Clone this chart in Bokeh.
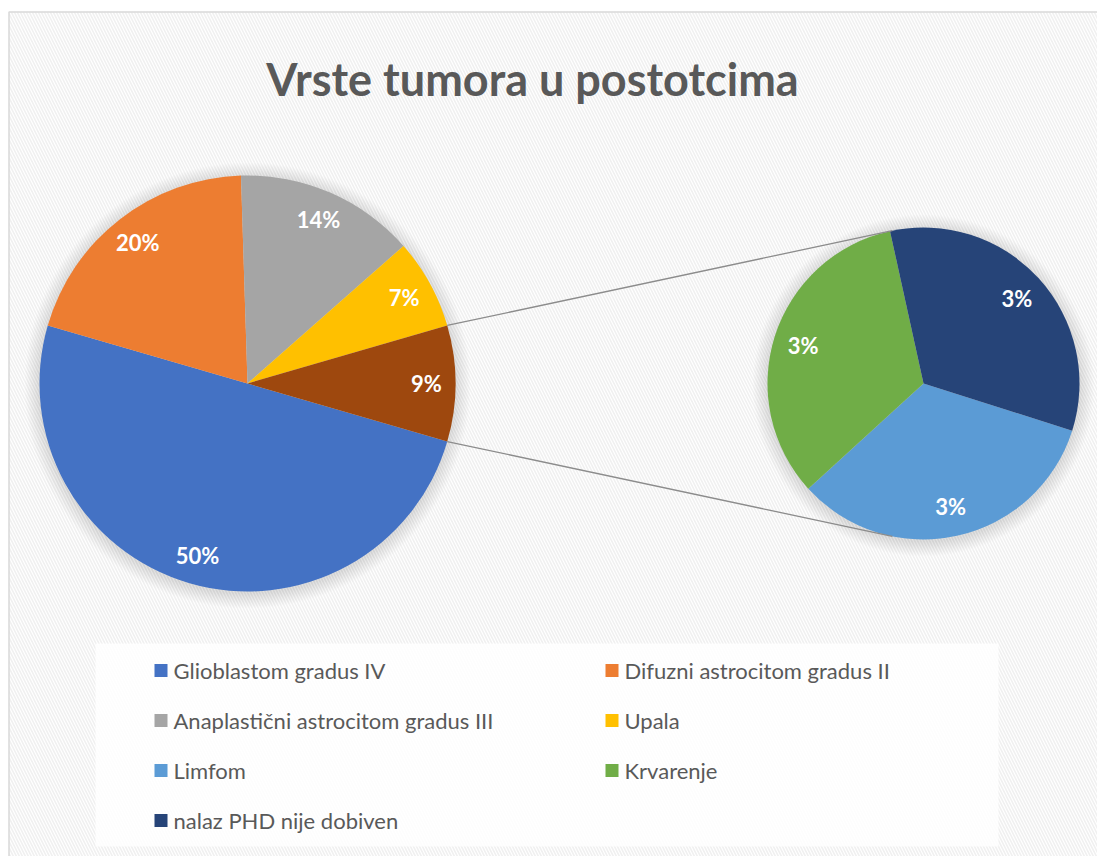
import math
from bokeh.plotting import figure
from bokeh.models import Range1d
from bokeh.core.properties import value
from bokeh.embed import file_html
from bokeh.resources import INLINE

# ---------------- data ----------------
title = "Vrste tumora u postotcima"
main_labels = ["Glioblastom gradus IV", "Difuzni astrocitom gradus II",
               "Anaplastični astrocitom gradus III", "Upala"]
main_values = [50, 20, 14, 7]
main_colors = ["#4472C4", "#ED7D31", "#A5A5A5", "#FFC000"]
other_color = "#9E480E"
sec_labels = ["Limfom", "Krvarenje", "nalaz PHD nije dobiven"]
sec_values = [3, 3, 3]
sec_colors = ["#5B9BD5", "#70AD47", "#264478"]

# ---------------- layout (screen coords -> data: y = H - sy) ----------------
W, H = 1097, 856
def Y(sy):
    return H - sy

FONT = value("Lato")
TXT = "#595959"

p = figure(width=W, height=H, x_range=Range1d(0, W), y_range=Range1d(0, H),
           x_axis_type=None, y_axis_type=None, toolbar_location=None,
           output_backend="svg", min_border=0, outline_line_color=None,
           background_fill_color="white", border_fill_color="white")

# chart area with diagonal pattern
p.quad(left=8.5, right=W + 10, bottom=-10, top=Y(11.5), fill_color="white",
       hatch_pattern="left_diagonal_line", hatch_color="#f0f0f0",
       hatch_scale=6, hatch_weight=1.6, line_color="#d9d9d9", line_width=1.5)

# title
p.text(x=[532], y=[Y(78)], text=[title], text_align="center", text_baseline="middle",
       text_font=FONT, text_font_style="bold", text_font_size="45px", text_color=TXT)

# ---------------- pies ----------------
mc = (247, Y(383)); mr = 208
sc = (923, Y(383)); sr = 156

def shadow(c, r):
    for k in range(1, 16):
        p.circle(x=[c[0]], y=[c[1] - 2], radius=r + k, fill_color="black",
                 fill_alpha=0.008, line_color=None)

shadow(mc, mr)
shadow(sc, sr)

total = sum(main_values) + sum(sec_values)
other_val = sum(sec_values)
other_span = 2 * math.pi * other_val / total

def pie(c, r, vals, cols, start, denom, frac, label_vals):
    a = start
    for v, col, lv in zip(vals, cols, label_vals):
        span = 2 * math.pi * v / denom
        p.wedge(x=[c[0]], y=[c[1]], radius=r, start_angle=a, end_angle=a - span,
                direction="clock", fill_color=col, line_color=None)
        mid = a - span / 2
        p.text(x=[c[0] + frac * r * math.cos(mid)], y=[c[1] + frac * r * math.sin(mid)],
               text=[f"{lv}%"], text_align="center", text_baseline="middle",
               text_font=FONT, text_font_style="bold", text_font_size="22px",
               text_color="white")
        a -= span

pie(mc, mr, main_values + [other_val], main_colors + [other_color],
    -other_span / 2, total, 0.86, main_values + [other_val])

sec_start = math.radians(-17.6)
pie(sc, sr, sec_values, sec_colors, sec_start, sum(sec_values), 0.81, sec_values)

# connector lines
conn = math.radians(101.5)
for s in (1, -1):
    x0 = mc[0] + mr * math.cos(s * other_span / 2)
    y0 = mc[1] + mr * math.sin(s * other_span / 2)
    x1 = sc[0] + sr * math.cos(s * conn)
    y1 = sc[1] + sr * math.sin(s * conn)
    p.line(x=[x0, x1], y=[y0, y1], line_color="#8c8c8c", line_width=1.3)

# ---------------- legend ----------------
p.quad(left=95, right=998, top=Y(643), bottom=Y(846), fill_color="white",
       fill_alpha=0.85, line_color=None)
leg_labels = main_labels + sec_labels
leg_colors = main_colors + sec_colors
col_x = [154, 605]
row_y0, row_dy = 670, 50
for i, (lab, col) in enumerate(zip(leg_labels, leg_colors)):
    cx = col_x[i % 2]
    cy = Y(row_y0 + row_dy * (i // 2))
    p.quad(left=cx, right=cx + 13, top=cy + 6.5, bottom=cy - 6.5,
           fill_color=col, line_color=None)
    p.text(x=[cx + 19], y=[cy], text=[lab], text_align="left", text_baseline="middle",
           text_font=FONT, text_font_size="22px", text_color=TXT)

open("out.html", "w").write(file_html(p, INLINE))
